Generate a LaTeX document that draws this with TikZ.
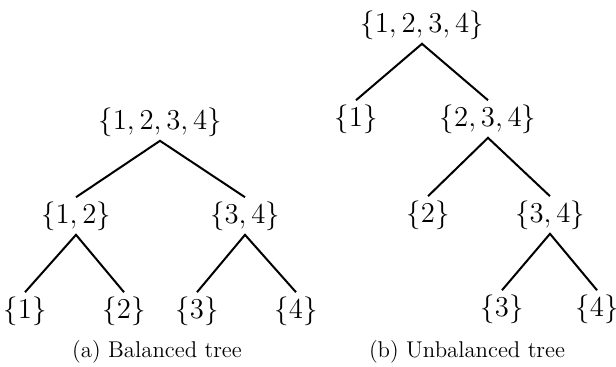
\documentclass[tikz,border=0pt]{standalone}
\usepackage{tikz}

\tikzset{
  set/.style={inner sep=2pt, font=\fontsize{14}{17}\selectfont},
  subcap/.style={inner sep=0pt, font=\fontsize{11.4}{13}\selectfont},
  branch/.style={line width=1pt, black}
}

\begin{document}
\begin{tikzpicture}[x=0.5pt, y=-0.5pt]
    \useasboundingbox (0,0) rectangle (616,366);

    % (a) Balanced tree
    \node[set] (aroot) at (160,122) {$\{1,2,3,4\}$};
    \node[set] (a12) at (76,216) {$\{1,2\}$};
    \node[set] (a34) at (245,216) {$\{3,4\}$};
    \node[set] (a1) at (25,311) {$\{1\}$};
    \node[set] (a2) at (124,311) {$\{2\}$};
    \node[set] (a3) at (197,311) {$\{3\}$};
    \node[set] (a4) at (296,311) {$\{4\}$};
    \draw[branch] (a12.north) -- (aroot.south) -- (a34.north);
    \draw[branch] (a1.north) -- (a12.south) -- (a2.north);
    \draw[branch] (a3.north) -- (a34.south) -- (a4.north);
    \node[subcap] (acap) at (157,352) {(a) Balanced tree};

    % (b) Unbalanced tree
    \node[set] (broot) at (422,25) {$\{1,2,3,4\}$};
    \node[set] (b1) at (356,119) {$\{1\}$};
    \node[set] (b234) at (488,119) {$\{2,3,4\}$};
    \node[set] (b2) at (428,215) {$\{2\}$};
    \node[set] (b34) at (550,215) {$\{3,4\}$};
    \node[set] (b3) at (502,309) {$\{3\}$};
    \node[set] (b4) at (597,309) {$\{4\}$};
    \draw[branch] (b1.north) -- (broot.south) -- (b234.north);
    \draw[branch] (b2.north) -- (b234.south) -- (b34.north);
    \draw[branch] (b3.north) -- (b34.south) -- (b4.north);
    \node[subcap] (bcap) at (467,352) {(b) Unbalanced tree};
\end{tikzpicture}
\end{document}
